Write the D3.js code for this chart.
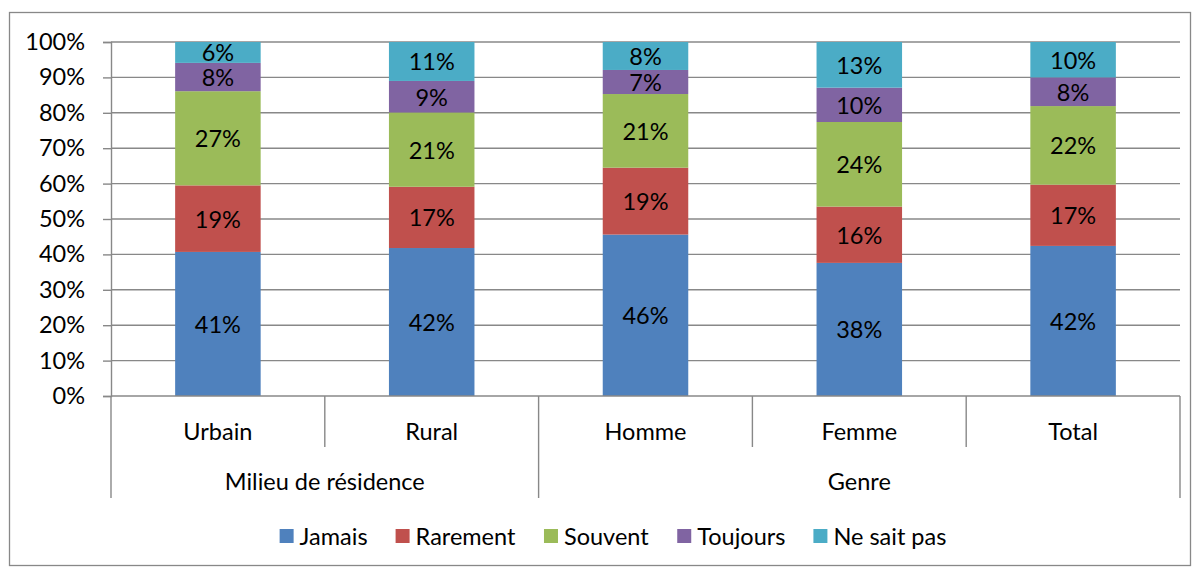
<!DOCTYPE html>
<html>
<head>
<meta charset="utf-8">
<script src="https://cdn.jsdelivr.net/npm/d3@7"></script>
<style>
  body { margin: 0; background: #fff; }
  text { font-family: Lato, "Open Sans", sans-serif; fill: #000; }
</style>
</head>
<body>
<div id="container"></div>
<script>
// values (percent of each column)
const categories = ["Urbain", "Rural", "Homme", "Femme", "Total"];
const groupOf = ["Milieu de résidence", "Milieu de résidence", "Genre", "Genre", "Genre"];
const seriesNames = ["Jamais", "Rarement", "Souvent", "Toujours", "Ne sait pas"];
const jamais = [40.7, 41.8, 45.6, 37.6, 42.4];
const rarement = [18.8, 17.3, 18.9, 15.9, 17.3];
const souvent = [26.6, 21.0, 20.8, 23.9, 22.2];
const toujours = [8.0, 8.9, 6.8, 9.7, 8.1];
const neSaitPas = [5.9, 11.0, 7.9, 12.9, 10.0];
const yTicks = [0, 0.1, 0.2, 0.3, 0.4, 0.5, 0.6, 0.7, 0.8, 0.9, 1];

const colors = ["#4f81bd", "#c0504d", "#9bbb59", "#8064a2", "#4bacc6"];
const gridColor = "#888888";
const fontSize = 23.5;

const width = 1195, height = 567;
const plot = { left: 111, right: 1180, top: 42, bottom: 396 };

let rows = categories.map(function (c, i) {
  return {
    cat: c,
    "Jamais": jamais[i],
    "Rarement": rarement[i],
    "Souvent": souvent[i],
    "Toujours": toujours[i],
    "Ne sait pas": neSaitPas[i]
  };
});

let stacked = d3.stack().keys(seriesNames).offset(d3.stackOffsetExpand)(rows);

let svg = d3.select("#container").append("svg")
  .attr("width", width)
  .attr("height", height);

// chart border
svg.append("rect")
  .attr("x", 9.5).attr("y", 12.5)
  .attr("width", 1181).attr("height", 553)
  .attr("fill", "#fff")
  .attr("stroke", gridColor)
  .attr("stroke-width", 1.3);

let xScale = d3.scaleBand().domain(categories).range([plot.left, plot.right]);
let yScale = d3.scaleLinear().domain([0, 1]).range([plot.bottom, plot.top]);

// gridlines
svg.append("g")
  .selectAll("line")
  .data(yTicks.slice(1))
  .enter()
  .append("line")
  .attr("x1", plot.left).attr("x2", plot.right)
  .attr("y1", (d) => yScale(d)).attr("y2", (d) => yScale(d))
  .attr("stroke", gridColor)
  .attr("stroke-width", 1.4);

// y axis
let yAxis = d3.axisLeft(yScale)
  .tickValues(yTicks)
  .tickFormat(d3.format(".0%"))
  .tickSize(8)
  .tickPadding(18);

let yAxisG = svg.append("g")
  .attr("transform", "translate(" + plot.left + ",0)")
  .call(yAxis);
yAxisG.select(".domain").attr("stroke", gridColor).attr("stroke-width", 1.4);
yAxisG.selectAll(".tick line").attr("stroke", gridColor).attr("stroke-width", 1.4);
yAxisG.selectAll(".tick text")
  .attr("font-size", fontSize)
  .attr("font-family", "Lato, sans-serif")
  .attr("fill", "#000");

// bars
let barW = xScale.bandwidth() / 2.5;
let layers = svg.append("g")
  .selectAll("g")
  .data(stacked)
  .enter()
  .append("g")
  .attr("fill", (d, i) => colors[i]);

layers.selectAll("rect")
  .data((d) => d)
  .enter()
  .append("rect")
  .attr("x", (d) => xScale(d.data.cat) + (xScale.bandwidth() - barW) / 2)
  .attr("width", barW)
  .attr("y", (d) => yScale(d[1]))
  .attr("height", (d) => yScale(d[0]) - yScale(d[1]));

// data labels
layers.selectAll("text")
  .data((d) => d)
  .enter()
  .append("text")
  .attr("x", (d) => xScale(d.data.cat) + xScale.bandwidth() / 2)
  .attr("y", (d) => (yScale(d[0]) + yScale(d[1])) / 2)
  .attr("text-anchor", "middle")
  .attr("dominant-baseline", "central")
  .attr("font-size", fontSize)
  .text((d) => d3.format(".0%")(d[1] - d[0]));

// x axis baseline
svg.append("line")
  .attr("x1", plot.left).attr("x2", plot.right)
  .attr("y1", plot.bottom).attr("y2", plot.bottom)
  .attr("stroke", gridColor).attr("stroke-width", 1.4);

// category separators (short inside groups, long at group edges)
let xAxisG = svg.append("g");
let bounds = categories.map((c) => xScale(c)).concat([plot.right]);
xAxisG.selectAll("line")
  .data(bounds)
  .enter()
  .append("line")
  .attr("x1", (d) => d).attr("x2", (d) => d)
  .attr("y1", plot.bottom)
  .attr("y2", function (d, i) {
    let edge = i === 0 || i === categories.length || groupOf[i] !== groupOf[i - 1];
    return edge ? 498 : 447;
  })
  .attr("stroke", gridColor)
  .attr("stroke-width", 1.4);

xAxisG.selectAll("text.cat")
  .data(categories)
  .enter()
  .append("text")
  .attr("class", "cat")
  .attr("x", (d) => xScale(d) + xScale.bandwidth() / 2)
  .attr("y", 431)
  .attr("text-anchor", "middle")
  .attr("dominant-baseline", "central")
  .attr("font-size", fontSize)
  .text((d) => d);

let groupNames = Array.from(new Set(groupOf));
xAxisG.selectAll("text.grp")
  .data(groupNames)
  .enter()
  .append("text")
  .attr("class", "grp")
  .attr("x", function (g) {
    let cats = categories.filter((c, i) => groupOf[i] === g);
    let x0 = xScale(cats[0]);
    let x1 = xScale(cats[cats.length - 1]) + xScale.bandwidth();
    return (x0 + x1) / 2;
  })
  .attr("y", 481)
  .attr("text-anchor", "middle")
  .attr("dominant-baseline", "central")
  .attr("font-size", fontSize)
  .text((d) => d);

// legend
let legend = svg.append("g");
let items = legend.selectAll("g")
  .data(seriesNames)
  .enter()
  .append("g");
items.append("rect")
  .attr("width", 14).attr("height", 14)
  .attr("y", -7)
  .attr("fill", (d, i) => colors[i]);
items.append("text")
  .attr("x", 20)
  .attr("dominant-baseline", "central")
  .attr("font-size", fontSize)
  .text((d) => d);

let xPos = 0;
items.each(function () {
  let w = this.getBBox().width;
  d3.select(this).attr("data-x", xPos);
  xPos += w + 28;
});
let totalW = xPos - 28;
let startX = 613 - totalW / 2;
items.attr("transform", function () {
  return "translate(" + (startX + (+this.getAttribute("data-x"))) + ",536)";
});
</script>
</body>
</html>
